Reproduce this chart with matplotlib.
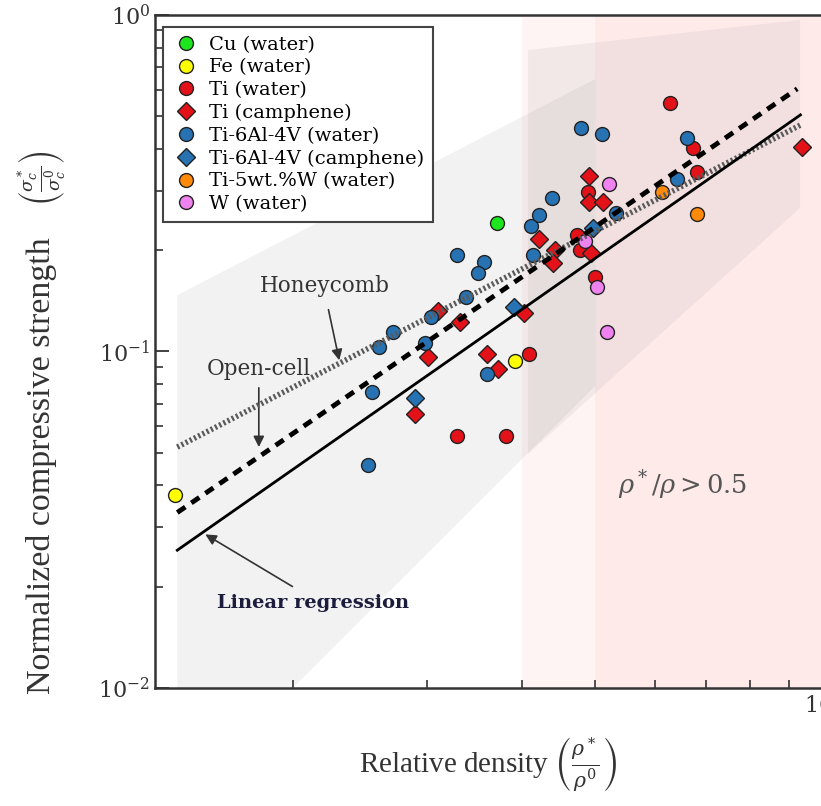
import numpy as np
import matplotlib.pyplot as plt

plt.rcParams['font.family'] = 'DejaVu Serif'
plt.rcParams['mathtext.fontset'] = 'dejavuserif'

# relative density (x) and normalized compressive strength (y), one pair per series
cu_water_x = [0.371]
cu_water_y = [0.241]

fe_water_x = [0.140, 0.392]
fe_water_y = [0.0375, 0.0937]

ti_water_x = [0.329, 0.382, 0.409, 0.489, 0.473, 0.478, 0.500, 0.627, 0.673, 0.681]
ti_water_y = [0.0561, 0.0561, 0.0983, 0.298, 0.222, 0.200, 0.167, 0.548, 0.403, 0.342]

ti_camph_x = [0.290, 0.301, 0.311, 0.332, 0.360, 0.372, 0.403, 0.422, 0.443, 0.440,
              0.491, 0.491, 0.512, 0.494, 0.936]
ti_camph_y = [0.0652, 0.0963, 0.132, 0.122, 0.0983, 0.0887, 0.130, 0.216, 0.200, 0.183,
              0.332, 0.278, 0.278, 0.196, 0.405]

ti64_water_x = [0.251, 0.260, 0.271, 0.254, 0.299, 0.304, 0.338, 0.329, 0.357, 0.351,
                0.360, 0.412, 0.422, 0.439, 0.414, 0.533, 0.479, 0.510, 0.660, 0.640]
ti64_water_y = [0.0460, 0.103, 0.114, 0.0758, 0.106, 0.127, 0.145, 0.194, 0.185, 0.171,
                0.0857, 0.236, 0.255, 0.286, 0.194, 0.258, 0.462, 0.443, 0.431, 0.326]

ti64_camph_x = [0.290, 0.391, 0.497]
ti64_camph_y = [0.0727, 0.136, 0.233]

tiw_water_x = [0.612, 0.681]
tiw_water_y = [0.298, 0.256]

w_water_x = [0.521, 0.485, 0.503, 0.518]
w_water_y = [0.315, 0.213, 0.156, 0.114]

series = [
    ('Cu (water)', cu_water_x, cu_water_y, 'o', '#1ee61e'),
    ('Fe (water)', fe_water_x, fe_water_y, 'o', '#ffff00'),
    ('Ti (water)', ti_water_x, ti_water_y, 'o', '#e31219'),
    ('Ti (camphene)', ti_camph_x, ti_camph_y, 'D', '#e31219'),
    ('Ti-6Al-4V (water)', ti64_water_x, ti64_water_y, 'o', '#2672b2'),
    ('Ti-6Al-4V (camphene)', ti64_camph_x, ti64_camph_y, 'D', '#2672b2'),
    ('Ti-5wt.%W (water)', tiw_water_x, tiw_water_y, 'o', '#ff8a0a'),
    ('W (water)', w_water_x, w_water_y, 'o', '#ee82ee'),
]

# scaling laws: coefficient, exponent, density range
regression_fit = (0.565, 1.578, 0.141, 0.931)
open_cell_fit = (0.684, 1.544, 0.141, 0.922)
honeycomb_fit = (0.512, 1.1675, 0.141, 0.931)

# shaded scatter envelopes (density, strength)
band_low_x = [0.141, 0.141, 0.500, 0.500, 0.200]
band_low_y = [0.010, 0.147, 0.645, 0.079, 0.010]
band_high_x = [0.408, 0.930, 0.930, 0.408]
band_high_y = [0.787, 0.966, 0.267, 0.0496]

fig = plt.figure(figsize=(8.21, 8.06), dpi=100)
ax = fig.add_axes([0.1888, 0.1464, 0.8149, 0.835])
ax.set_xscale('log')
ax.set_yscale('log')
ax.set_xlim(0.1318, 1.0)
ax.set_ylim(0.01, 1.0)

ax.axvspan(0.4, 1.0, color='red', alpha=0.045, lw=0, zorder=0)
ax.axvspan(0.5, 1.0, color='red', alpha=0.04, lw=0, zorder=0)
ax.fill(band_low_x, band_low_y, color='gray', alpha=0.1, lw=0, zorder=0.5)
ax.fill(band_high_x, band_high_y, color='gray', alpha=0.1, lw=0, zorder=0.5)

for label, xs, ys, mk, col in series:
    ms = 9 if mk == 'D' else 10
    ax.plot(xs, ys, ls='none', marker=mk, ms=ms, mfc=col, mec='#222222',
            mew=1.0, label=label, zorder=3)


def power_line(fit):
    c, n, x0, x1 = fit
    xs = np.logspace(np.log10(x0), np.log10(x1), 50)
    return xs, c * xs ** n


xs, ys = power_line(honeycomb_fit)
ax.plot(xs, ys, color='#5a5a5a', lw=4, ls=(0, (0.4, 0.45)), zorder=4)
xs, ys = power_line(open_cell_fit)
ax.plot(xs, ys, color='black', lw=3.5, ls=(0, (2.0, 1.5)), zorder=4)
xs, ys = power_line(regression_fit)
ax.plot(xs, ys, color='black', lw=2, zorder=4)

arrow = dict(arrowstyle='-|>', color='#333333', lw=1.2, mutation_scale=16)
ax.text(0.2205, 0.1565, 'Honeycomb', fontsize=15.5, color='#333333',
        ha='center', va='center')
ax.annotate('', xy=(0.2307, 0.0924), xytext=(0.2225, 0.1356), arrowprops=arrow)
ax.text(0.1805, 0.0887, 'Open-cell', fontsize=15.5, color='#333333',
        ha='center', va='center')
ax.annotate('', xy=(0.1805, 0.0510), xytext=(0.1805, 0.0795), arrowprops=arrow)
ax.text(0.2126, 0.01789, 'Linear regression', fontsize=14, fontweight='bold',
        color='#1c1c3c', ha='center', va='center')
ax.annotate('', xy=(0.1524, 0.02889), xytext=(0.2013, 0.01983), arrowprops=arrow)
ax.text(0.6524, 0.0401, r'$\rho^*/\rho > 0.5$', fontsize=18.5, color='#555555',
        ha='center', va='center')

ax.legend(loc='upper left', bbox_to_anchor=(0.012, 0.982), borderaxespad=0,
          fontsize=14, labelspacing=0.24, handletextpad=0.4, borderpad=0.45,
          fancybox=False, edgecolor='#444444', framealpha=1, handlelength=1.5)
ax.get_legend().get_frame().set_linewidth(1.5)

for sp in ax.spines.values():
    sp.set_linewidth(1.8)
    sp.set_color('#333333')
ax.tick_params(which='both', direction='in', colors='#333333', labelsize=16)
ax.tick_params(which='major', length=10, width=1.3)
ax.tick_params(which='minor', length=6, width=1.2)
ax.xaxis.set_minor_formatter(plt.NullFormatter())

# y label in two parts so the stress ratio can be set smaller
ax.set_ylabel('Normalized compressive strength', fontsize=24.5,
              family='Liberation Serif', color='#333333', va='center')
ax.yaxis.set_label_coords(-0.169, 0.33)
ax.text(-0.169, 0.758, r'$\left(\frac{\sigma^*_c}{\sigma^0_c}\right)$',
        transform=ax.transAxes, rotation=90, rotation_mode='anchor',
        ha='center', va='center', fontsize=18, color='#333333')
ax.set_xlabel(r'Relative density $\left(\frac{\rho^*}{\rho^0}\right)$',
              fontsize=21, family='Liberation Serif', color='#333333')
ax.xaxis.set_label_coords(0.498, -0.07)

plt.savefig('out.png', dpi=100)
